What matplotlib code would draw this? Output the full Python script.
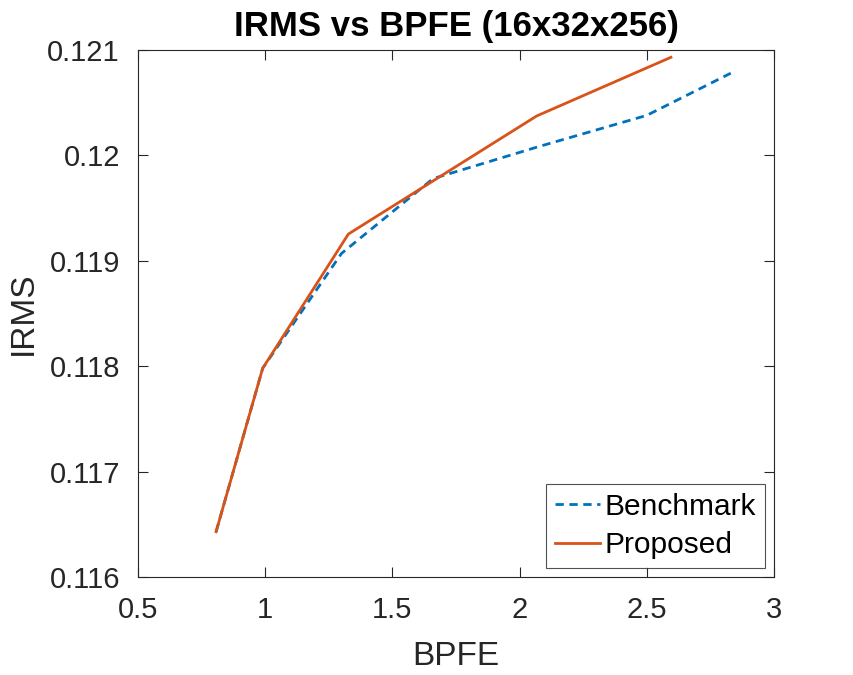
import matplotlib.pyplot as plt

plt.rcParams['font.family'] = ['Liberation Sans', 'DejaVu Sans']

# values
bench_x = [0.807, 0.99, 1.30, 1.66, 2.07, 2.50, 2.83]
bench_y = [0.11643, 0.11798, 0.11907, 0.11978, 0.12008, 0.12038, 0.12078]
prop_x = [0.807, 0.99, 1.327, 1.65, 2.067, 2.595]
prop_y = [0.11643, 0.11798, 0.119254, 0.119743, 0.120374, 0.120931]

fig = plt.figure(figsize=(8.54, 6.75), dpi=100)
ax = fig.add_axes([0.1616, 0.1452, 0.7447, 0.7807])

ax.plot(bench_x, bench_y, '--', color='#0072BD', lw=2, dashes=(3, 2), label='Benchmark')
ax.plot(prop_x, prop_y, '-', color='#D95319', lw=2, label='Proposed')

ax.set_xlim(0.5, 3)
ax.set_ylim(0.116, 0.121)
ax.set_xticks([0.5, 1, 1.5, 2, 2.5, 3])
ax.set_xticklabels(['0.5', '1', '1.5', '2', '2.5', '3'])
ax.set_yticks([0.116, 0.117, 0.118, 0.119, 0.12, 0.121])
ax.set_yticklabels(['0.116', '0.117', '0.118', '0.119', '0.12', '0.121'])
ax.tick_params(direction='in', top=True, right=True, labelsize=21, length=7,
               width=0.8, colors='#262626')
ax.tick_params(axis='y', pad=13)
ax.tick_params(axis='x', pad=14)
for s in ax.spines.values():
    s.set_color('#262626')
    s.set_linewidth(0.8)

ax.set_xlabel('BPFE', fontsize=24, color='#262626', labelpad=12)
ax.set_ylabel('IRMS', fontsize=24, color='#262626', labelpad=6)
ax.set_title('IRMS vs BPFE (16x32x256)', fontsize=25, fontweight='bold', pad=10)

leg = ax.legend(loc='lower right', fontsize=21.5, frameon=True, fancybox=False,
                edgecolor='#262626', handlelength=1.5, handletextpad=0.15,
                borderpad=0.3, labelspacing=0.35, borderaxespad=0.3)
leg.get_frame().set_linewidth(0.8)

fig.savefig('out.png', dpi=100)
